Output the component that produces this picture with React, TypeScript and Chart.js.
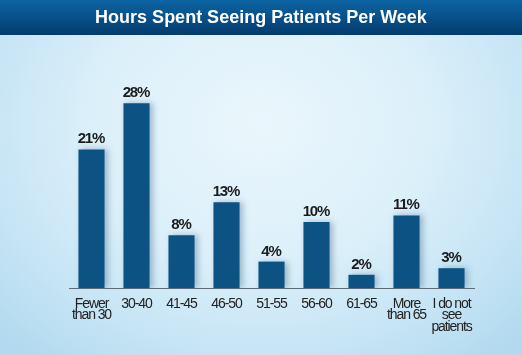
import React, { useEffect, useRef } from "react";
import { Chart, registerables } from "chart.js";

Chart.register(...registerables);

const categories: (string | string[])[] = [
  ["Fewer", "than 30"],
  "30-40",
  "41-45",
  "46-50",
  "51-55",
  "56-60",
  "61-65",
  ["More", "than 65"],
  ["I do not", "see", "patients"],
];
const percentages: number[] = [21, 28, 8, 13, 4, 10, 2, 11, 3];
const titleText = "Hours Spent Seeing Patients Per Week";

const SANS = "'Liberation Sans', Arial, sans-serif";

const valueLabels = {
  id: "valueLabels",
  afterDatasetsDraw(chart: any) {
    const ctx = chart.ctx;
    const meta = chart.getDatasetMeta(0);
    ctx.save();
    ctx.shadowColor = "transparent";
    ctx.font = `bold 15px ${SANS}`;
    (ctx as any).letterSpacing = "-1.2px";
    ctx.fillStyle = "#1b1b1b";
    ctx.textAlign = "center";
    ctx.textBaseline = "alphabetic";
    meta.data.forEach((el: any, i: number) => {
      ctx.fillText(`${percentages[i]}%`, el.x - 0.6, el.y - 6);
    });
    (ctx as any).letterSpacing = "0px";
    ctx.restore();
  },
};

const narrowTicks = {
  id: "narrowTicks",
  afterLayout(chart: any) {
    const sx = chart.scales.x;
    if (!sx || sx.__narrowed) return;
    const orig = sx.drawLabels.bind(sx);
    sx.drawLabels = (area: any) => {
      const ctx = chart.ctx;
      const prev = (ctx as any).letterSpacing;
      (ctx as any).letterSpacing = "-1.1px";
      orig(area);
      (ctx as any).letterSpacing = prev || "0px";
    };
    sx.__narrowed = true;
  },
};

const barShadow = {
  id: "barShadow",
  beforeDatasetsDraw(chart: any) {
    const ctx = chart.ctx;
    ctx.save();
    ctx.shadowColor = "rgba(40,80,120,0.35)";
    ctx.shadowBlur = 6;
    ctx.shadowOffsetX = 3;
    ctx.shadowOffsetY = 0;
  },
  afterDatasetsDraw(chart: any) {
    chart.ctx.restore();
  },
};

export default function App() {
  const ref = useRef<HTMLCanvasElement>(null);
  useEffect(() => {
    if (!ref.current) return;
    const chart = new Chart(ref.current, {
      type: "bar",
      data: {
        labels: categories,
        datasets: [
          {
            data: percentages,
            backgroundColor: "#0c5283",
            borderWidth: 0,
            categoryPercentage: 1,
            barPercentage: 0.58,
            yAxisID: "y",
          },
        ],
      },
      options: {
        animation: false,
        responsive: false,
        events: [],
        layout: { padding: 0 },
        plugins: {
          legend: { display: false },
          tooltip: { enabled: false },
          title: {
            display: true,
            text: titleText,
            color: "#ffffff",
            font: { family: SANS, size: 18, weight: "bold", lineHeight: 1.2 },
            padding: { top: 7, bottom: 61.4 },
          },
        },
        scales: {
          x: {
            grid: { display: false, drawTicks: false },
            border: { display: true, color: "#5c6b78", width: 1 },
            ticks: {
              color: "#222222",
              font: { family: SANS, size: 14, lineHeight: 0.82 },
              padding: 10,
              maxRotation: 0,
              autoSkip: false,
            },
            afterFit: (s: any) => {
              s.height = 67;
            },
          },
          y: {
            position: "left",
            min: 0,
            max: 30,
            grid: { display: false, drawTicks: false },
            border: { display: false },
            ticks: { display: false },
            afterFit: (s: any) => {
              s.width = 69;
            },
          },
          yRight: {
            position: "right",
            min: 0,
            max: 30,
            grid: { display: false, drawTicks: false },
            border: { display: false },
            ticks: { display: false },
            afterFit: (s: any) => {
              s.width = 48;
            },
          },
        },
      },
      plugins: [narrowTicks, barShadow, valueLabels],
    });
    return () => chart.destroy();
  }, []);

  return (
    <div
      style={{
        position: "absolute",
        left: 0,
        top: 0,
        width: 522,
        height: 355,
        overflow: "hidden",
        background:
          "radial-gradient(ellipse 70% 85% at 50% 35%, #eaf6fc 0%, #dcf0fa 45%, #c3e3f4 80%, #b2d9ef 100%)",
      }}
    >
      <div
        style={{
          position: "absolute",
          left: 0,
          top: 0,
          width: 522,
          height: 35,
          background: "linear-gradient(to bottom, #0c64a2 0%, #08508a 50%, #043b6c 100%)",
        }}
      />
      <canvas ref={ref} width={522} height={355} style={{ position: "absolute", left: 0, top: 0, width: 522, height: 355 }} />
    </div>
  );
}
